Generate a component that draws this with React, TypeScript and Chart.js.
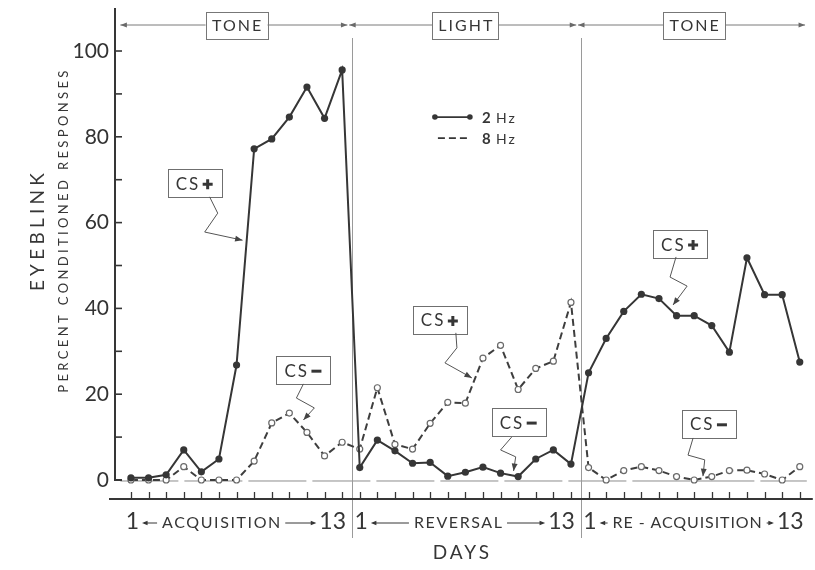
import React, { useEffect, useRef } from 'react';
import { Chart, registerables } from 'chart.js';

Chart.register(...registerables);

// ---------------- data ----------------
const phases = ['ACQUISITION', 'REVERSAL', 'RE - ACQUISITION'];
const stimuli = ['TONE', 'LIGHT', 'TONE'];
const firstDayLabel = '1';
const lastDayLabel = '13';
const daysPerPhase = 13;

const hz2Acquisition = [0.5, 0.5, 1.2, 7.0, 1.9, 4.9, 26.8, 77.2, 79.5, 84.6, 91.6, 84.3, 95.6];
const hz2Reversal = [2.9, 9.3, 6.8, 3.9, 4.1, 0.9, 1.8, 3.0, 1.6, 0.8, 4.9, 7.0, 3.7];
const hz2Reacquisition = [25, 33, 39.3, 43.3, 42.3, 38.3, 38.3, 36, 29.8, 51.8, 43.2, 43.2, 27.5];

const hz8Acquisition = [0, 0, 0, 3.1, 0, 0, 0, 4.4, 13.3, 15.6, 11.1, 5.6, 8.8];
const hz8Reversal = [7.2, 21.5, 8.3, 7.2, 13.2, 18.1, 17.9, 28.4, 31.4, 21.1, 26.0, 27.7, 41.4];
const hz8Reacquisition = [2.9, 0, 2.2, 3.1, 2.2, 0.8, 0, 0.8, 2.2, 2.3, 1.4, 0, 3.1];

const seriesLabels = ['2 Hz', '8 Hz'];
const yTickStep = 10;
const yLabelStep = 20;
const yAxisTitle = 'EYEBLINK';
const yAxisSubtitle = 'PERCENT CONDITIONED RESPONSES';
const xAxisTitle = 'DAYS';

// callouts: box centre and squiggle path, in data coordinates (day index, percent)
const callouts = [
  { text: 'CS', sign: '+', box: [3.62, 69.2], path: [[4.47, 66.0], [4.93, 62.2], [4.19, 57.8], [6.34, 55.9]] },
  { text: 'CS', sign: '-', box: [9.8, 25.6], path: [[9.8, 22.4], [9.4, 19.1], [10.42, 16.8], [9.8, 14.0]] },
  { text: 'CS', sign: '+', box: [17.55, 37.3], path: [[18.46, 34.3], [18.52, 30.8], [17.84, 27.3], [19.37, 23.8]] },
  { text: 'CS', sign: '-', box: [22.03, 13.5], path: [[21.63, 10.0], [21.0, 7.0], [21.86, 5.4], [21.74, 2.1]] },
  { text: 'CS', sign: '+', box: [31.2, 55.0], path: [[30.97, 52.0], [30.63, 47.3], [31.6, 45.2], [30.8, 40.8]] },
  { text: 'CS', sign: '-', box: [32.84, 13.1], path: [[31.94, 9.8], [31.65, 5.8], [32.6, 4.7], [32.5, 0.9]] },
];
const legendAnchor = [17.27, 84.6];

// ---------------- styling ----------------
const INK = '#363636';
const GREY = '#8c8c8c';
const FONT = 'Lato, "DejaVu Sans", sans-serif';
const phaseWordSpacing = [1.6, 1.6, 0.9];
const phaseWordShift = [-8, 0, 0];

const allHz2 = [...hz2Acquisition, ...hz2Reversal, ...hz2Reacquisition];
const allHz8 = [...hz8Acquisition, ...hz8Reversal, ...hz8Reacquisition];
const nDays = allHz2.length;

function setSpacing(ctx: CanvasRenderingContext2D, px: number) {
  (ctx as any).letterSpacing = px + 'px';
}

function textFit(ctx: CanvasRenderingContext2D, text: string, target: number) {
  setSpacing(ctx, 0);
  const w = ctx.measureText(text).width;
  const n = [...text].length;
  const s = Math.max(0, (target - w) / Math.max(1, n - 1));
  setSpacing(ctx, s);
  return s;
}

function arrowHead(ctx: CanvasRenderingContext2D, fx: number, fy: number, tx: number, ty: number, size = 6) {
  const a = Math.atan2(ty - fy, tx - fx);
  ctx.beginPath();
  ctx.moveTo(tx, ty);
  ctx.lineTo(tx - size * Math.cos(a - 0.38), ty - size * Math.sin(a - 0.38));
  ctx.lineTo(tx - size * Math.cos(a + 0.38), ty - size * Math.sin(a + 0.38));
  ctx.closePath();
  ctx.fill();
}

const decor = {
  id: 'decor',
  beforeDatasetsDraw(chart: any) {
    const { ctx, chartArea: ca, scales } = chart;
    const x = scales.x;
    const y = scales.y;
    const y0 = y.getPixelForValue(0);
    ctx.save();
    // zero reference line
    ctx.strokeStyle = GREY;
    ctx.lineWidth = 1;
    ctx.setLineDash([58, 6]);
    ctx.beginPath();
    ctx.moveTo(x.getPixelForValue(-0.6), y0 + 1);
    ctx.lineTo(x.getPixelForValue(38.4), y0 + 1);
    ctx.stroke();
    ctx.setLineDash([]);
    // phase dividers
    ctx.strokeStyle = '#9a9a9a';
    for (let k = 1; k < phases.length; k++) {
      const bx = Math.round(x.getPixelForValue(k * daysPerPhase - 0.45)) + 0.5;
      ctx.beginPath();
      ctx.moveTo(bx, ca.top + 28);
      ctx.lineTo(bx, ca.bottom + 39);
      ctx.stroke();
    }
    // y axis
    ctx.strokeStyle = INK;
    ctx.lineWidth = 2;
    ctx.beginPath();
    ctx.moveTo(ca.left, ca.top - 2);
    ctx.lineTo(ca.left, y0);
    ctx.lineTo(ca.left + 7, y0);
    ctx.stroke();
    ctx.lineWidth = 1.6;
    y.ticks.forEach((t: any) => {
      if (t.value === 0) return;
      const py = y.getPixelForValue(t.value);
      ctx.beginPath();
      ctx.moveTo(ca.left, py);
      ctx.lineTo(ca.left + 7, py);
      ctx.stroke();
    });
    // x axis
    ctx.lineWidth = 2;
    ctx.beginPath();
    ctx.moveTo(ca.left - 6, ca.bottom);
    ctx.lineTo(ca.right + 3, ca.bottom);
    ctx.stroke();
    ctx.lineWidth = 1.3;
    for (let i = 0; i < nDays; i++) {
      const px = Math.round(x.getPixelForValue(i)) + 0.5;
      ctx.beginPath();
      ctx.moveTo(px, ca.bottom);
      ctx.lineTo(px, ca.bottom - 7);
      ctx.stroke();
    }
    ctx.restore();
  },
  afterDatasetsDraw(chart: any) {
    const { ctx, chartArea: ca, scales } = chart;
    const x = scales.x;
    const y = scales.y;
    ctx.save();
    ctx.textBaseline = 'middle';

    // top phase arrows with boxed stimulus labels
    const arrowY = ca.top + 15;
    stimuli.forEach((s, k) => {
      const start = x.getPixelForValue(k * daysPerPhase - 0.6);
      const end = x.getPixelForValue(k * daysPerPhase + daysPerPhase - 1 + 0.3);
      const mid = x.getPixelForValue(k * daysPerPhase + (daysPerPhase - 1) / 2);
      ctx.strokeStyle = '#7a7a7a';
      ctx.fillStyle = '#6a6a6a';
      ctx.lineWidth = 1;
      ctx.beginPath();
      ctx.moveTo(start, arrowY);
      ctx.lineTo(end, arrowY);
      ctx.stroke();
      arrowHead(ctx, end - 10, arrowY, end, arrowY, 7);
      arrowHead(ctx, start + 10, arrowY, start, arrowY, 7);
      const bw = s.length > 4 ? 66 : 62;
      const bh = 27;
      ctx.fillStyle = '#fff';
      ctx.fillRect(mid - bw / 2, arrowY - bh / 2, bw, bh);
      ctx.strokeStyle = '#777';
      ctx.strokeRect(Math.round(mid - bw / 2) + 0.5, Math.round(arrowY - bh / 2) + 0.5, bw, bh);
      ctx.fillStyle = INK;
      ctx.font = `16px ${FONT}`;
      ctx.textAlign = 'center';
      setSpacing(ctx, 2);
      ctx.fillText(s, mid + 1, arrowY + 1);
      setSpacing(ctx, 0);
    });

    // callouts
    callouts.forEach((c) => {
      const bx = x.getPixelForValue(c.box[0]);
      const by = y.getPixelForValue(c.box[1]);
      const bw = 54;
      const bh = 28;
      ctx.fillStyle = '#fff';
      ctx.fillRect(bx - bw / 2, by - bh / 2, bw, bh);
      ctx.strokeStyle = '#6f6f6f';
      ctx.lineWidth = 1;
      ctx.strokeRect(Math.round(bx - bw / 2) + 0.5, Math.round(by - bh / 2) + 0.5, bw, bh);
      ctx.fillStyle = INK;
      ctx.font = `17px ${FONT}`;
      ctx.textAlign = 'left';
      setSpacing(ctx, 2);
      ctx.fillText(c.text, bx - 19, by + 1);
      setSpacing(ctx, 0);
      const sx = bx + 13;
      ctx.strokeStyle = INK;
      ctx.lineWidth = 3;
      ctx.beginPath();
      ctx.moveTo(sx - 5, by + 1);
      ctx.lineTo(sx + 5, by + 1);
      if (c.sign === '+') {
        ctx.moveTo(sx, by - 4);
        ctx.lineTo(sx, by + 6);
      }
      ctx.stroke();
      const pts = c.path.map((p) => [x.getPixelForValue(p[0]), y.getPixelForValue(p[1])]);
      ctx.strokeStyle = '#555';
      ctx.lineWidth = 1;
      ctx.beginPath();
      ctx.moveTo(pts[0][0], pts[0][1]);
      for (let i = 1; i < pts.length; i++) ctx.lineTo(pts[i][0], pts[i][1]);
      ctx.stroke();
      ctx.fillStyle = '#444';
      const n = pts.length;
      arrowHead(ctx, pts[n - 2][0], pts[n - 2][1], pts[n - 1][0], pts[n - 1][1], 8);
    });

    // legend
    const lx = x.getPixelForValue(legendAnchor[0]);
    const ly = y.getPixelForValue(legendAnchor[1]);
    ctx.strokeStyle = INK;
    ctx.fillStyle = INK;
    ctx.lineWidth = 1.8;
    ctx.beginPath();
    ctx.moveTo(lx, ly);
    ctx.lineTo(lx + 35, ly);
    ctx.stroke();
    [lx, lx + 35].forEach((px) => {
      ctx.beginPath();
      ctx.arc(px, ly, 2.8, 0, Math.PI * 2);
      ctx.fill();
    });
    const ly2 = ly + 21;
    ctx.setLineDash([7, 4]);
    ctx.beginPath();
    ctx.moveTo(lx + 3, ly2);
    ctx.lineTo(lx + 35, ly2);
    ctx.stroke();
    ctx.setLineDash([]);
    ctx.textAlign = 'left';
    seriesLabels.forEach((lab, i) => {
      const [num, unit] = lab.split(' ');
      const ty = i === 0 ? ly : ly2;
      ctx.font = `bold 15px ${FONT}`;
      ctx.fillText(num, lx + 47, ty + 1);
      ctx.font = `14px ${FONT}`;
      setSpacing(ctx, 2);
      ctx.fillText(unit, lx + 61, ty + 1);
      setSpacing(ctx, 0);
    });

    // x category labels
    const rowY = ca.bottom + 23;
    phases.forEach((p, k) => {
      const left = x.getPixelForValue(k * daysPerPhase - 0.3);
      const right = x.getPixelForValue(k * daysPerPhase + daysPerPhase - 1 + 0.22);
      ctx.fillStyle = INK;
      ctx.strokeStyle = INK;
      ctx.font = `23px ${FONT}`;
      ctx.textAlign = 'left';
      ctx.fillText(firstDayLabel, left, rowY);
      const w1 = ctx.measureText(firstDayLabel).width;
      ctx.textAlign = 'right';
      ctx.fillText(lastDayLabel, right, rowY);
      const w13 = ctx.measureText(lastDayLabel).width;
      ctx.font = `16px ${FONT}`;
      setSpacing(ctx, phaseWordSpacing[k]);
      const ww = ctx.measureText(p).width - phaseWordSpacing[k];
      const a0 = left + w1 + 3;
      const a1 = right - w13 - 3;
      let cx = (a0 + a1) / 2 + phaseWordShift[k];
      const minArrow = 8;
      if (cx - ww / 2 - 5 < a0 + minArrow) cx = a0 + minArrow + 5 + ww / 2;
      ctx.textAlign = 'left';
      ctx.fillText(p, cx - ww / 2, rowY + 1);
      setSpacing(ctx, 0);
      ctx.lineWidth = 1;
      ctx.fillStyle = INK;
      const gapL = cx - ww / 2 - 5;
      const gapR = cx + ww / 2 + 5;
      ctx.beginPath();
      ctx.moveTo(a0 + 2, rowY + 1);
      ctx.lineTo(gapL, rowY + 1);
      ctx.moveTo(gapR, rowY + 1);
      ctx.lineTo(a1 - 2, rowY + 1);
      ctx.stroke();
      arrowHead(ctx, a0 + 10, rowY + 1, a0, rowY + 1, 6);
      arrowHead(ctx, a1 - 10, rowY + 1, a1, rowY + 1, 6);
    });

    // x axis title
    ctx.font = `19px ${FONT}`;
    ctx.textAlign = 'center';
    ctx.fillStyle = INK;
    setSpacing(ctx, 3);
    ctx.fillText(xAxisTitle, (ca.left + ca.right) / 2, ca.bottom + 54);
    setSpacing(ctx, 0);

    // y axis titles (rotated)
    const cy = ca.top + 220;
    ctx.save();
    ctx.translate(38, cy);
    ctx.rotate(-Math.PI / 2);
    ctx.font = `19px ${FONT}`;
    textFit(ctx, yAxisTitle, 118);
    ctx.textAlign = 'center';
    ctx.fillText(yAxisTitle, 0, 0);
    ctx.restore();
    ctx.save();
    ctx.translate(64, cy);
    ctx.rotate(-Math.PI / 2);
    ctx.font = `13px ${FONT}`;
    textFit(ctx, yAxisSubtitle, 322);
    ctx.textAlign = 'center';
    ctx.fillText(yAxisSubtitle, 0, 0);
    ctx.restore();
    setSpacing(ctx, 0);

    ctx.restore();
  },
};

export default function App() {
  const ref = useRef<HTMLCanvasElement | null>(null);
  useEffect(() => {
    if (!ref.current) return;
    const chart = new Chart(ref.current, {
      type: 'line',
      data: {
        datasets: [
          {
            label: seriesLabels[0],
            data: allHz2.map((v, i) => ({ x: i, y: v })),
            borderColor: INK,
            borderWidth: 2,
            pointRadius: 3.6,
            pointBackgroundColor: INK,
            pointBorderColor: INK,
            pointBorderWidth: 0,
            tension: 0,
          },
          {
            label: seriesLabels[1],
            data: allHz8.map((v, i) => ({ x: i, y: v })),
            borderColor: '#3e3e3e',
            borderWidth: 2,
            borderDash: [7, 4],
            pointRadius: 3,
            pointBackgroundColor: '#ffffff',
            pointBorderColor: '#6a6a6a',
            pointBorderWidth: 1.2,
            tension: 0,
          },
        ],
      },
      options: {
        responsive: false,
        animation: false,
        devicePixelRatio: 1,
        layout: { padding: { left: 0, right: 3, top: 10, bottom: 0 } },
        plugins: { legend: { display: false }, tooltip: { enabled: false } },
        scales: {
          x: {
            type: 'linear',
            min: -0.906,
            max: 38.57,
            ticks: { display: false },
            grid: { display: false, drawTicks: false },
            border: { display: false },
            afterFit: (s: any) => {
              s.height = 71;
              s.paddingLeft = 0;
              s.paddingRight = 0;
            },
          },
          y: {
            type: 'linear',
            min: -4.43,
            max: 109.56,
            ticks: {
              stepSize: yTickStep,
              includeBounds: false,
              autoSkip: false,
              padding: 6,
              color: '#333',
              font: { family: FONT, size: 21 },
              callback: (v: any) => (Number(v) % yLabelStep === 0 ? String(v) : ''),
            },
            grid: { display: false, drawTicks: false },
            border: { display: false },
            afterFit: (s: any) => {
              s.width = 115;
              s.paddingTop = 0;
              s.paddingBottom = 0;
            },
          },
        },
      },
      plugins: [decor],
    } as any);
    return () => chart.destroy();
  }, []);
  return (
    <div style={{ position: 'absolute', left: 0, top: 0, width: 815, height: 570, background: '#fff' }}>
      <canvas ref={ref} width={815} height={570} />
    </div>
  );
}
